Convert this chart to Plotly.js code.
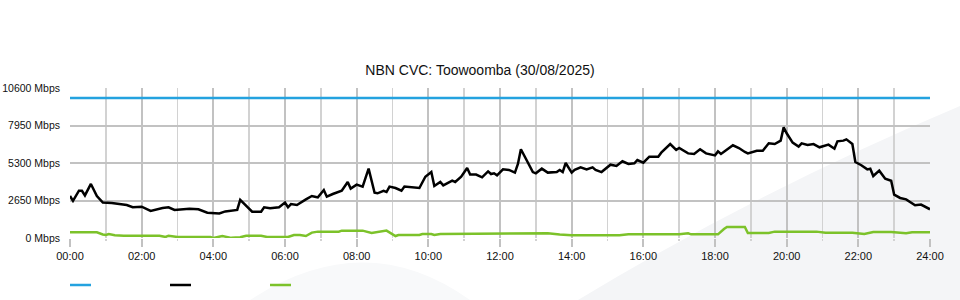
<!DOCTYPE html>
<html>
<head>
<meta charset="utf-8">
<script src="https://cdn.plot.ly/plotly-3.0.1.min.js"></script>
<style>html,body{margin:0;padding:0;background:#fff;}#chart{width:960px;height:300px;}</style>
</head>
<body>
<div id="chart"></div>
<script>
// ---- data ----
const chartTitle = "NBN CVC: Toowoomba (30/08/2025)";
const yTickVals = [0, 2650, 5300, 7950, 10600];
const yTickText = ["0 Mbps", "2650 Mbps", "5300 Mbps", "7950 Mbps", "10600 Mbps"];
const xTickVals = [0, 2, 4, 6, 8, 10, 12, 14, 16, 18, 20, 22, 24];
const xTickText = ["00:00","02:00","04:00","06:00","08:00","10:00","12:00","14:00","16:00","18:00","20:00","22:00","24:00"];

const capacityTimes = ["00:00", "24:00"];
const capacityValues = [9900, 9900];

const downTimes = ["00:00","00:05","00:15","00:20","00:25","00:35","00:45","00:55","01:10","01:20","01:35","01:45","02:00","02:15","02:35","02:45","02:55","03:20","03:35","03:50","04:10","04:20","04:40","04:45","05:00","05:05","05:20","05:25","05:35","05:50","06:00","06:05","06:10","06:20","06:35","06:45","06:50","06:55","07:05","07:10","07:20","07:35","07:45","07:50","08:00","08:10","08:20","08:30","08:35","08:45","08:50","08:55","09:05","09:15","09:20","09:35","09:45","09:55","10:05","10:10","10:20","10:25","10:40","10:45","10:55","11:05","11:10","11:20","11:30","11:40","11:45","11:50","11:55","12:05","12:15","12:25","12:30","12:35","12:45","12:55","13:00","13:10","13:20","13:35","13:40","13:45","13:50","14:00","14:05","14:15","14:25","14:35","14:40","14:50","15:05","15:15","15:25","15:35","15:45","15:50","16:00","16:10","16:25","16:30","16:45","16:55","17:00","17:15","17:25","17:35","17:45","18:00","18:05","18:10","18:30","18:40","18:50","18:55","19:10","19:20","19:30","19:40","19:50","19:55","20:00","20:10","20:20","20:25","20:35","20:45","20:55","21:10","21:20","21:25","21:35","21:40","21:50","21:55","22:05","22:15","22:20","22:25","22:35","22:45","22:55","23:00","23:10","23:20","23:35","23:45","24:00"];
const downValues = [2970,2620,3340,3340,3010,3820,2970,2500,2480,2400,2330,2170,2210,1910,2120,2170,1980,2070,2030,1790,1740,1880,1980,2690,2030,1860,1860,2170,2100,2170,2500,2170,2400,2330,2730,2970,2920,2870,3390,2920,3110,3340,3960,3490,3770,3630,4900,3200,3160,3340,3250,3630,3530,3340,3630,3580,3530,4330,4660,3680,3960,3720,4050,3960,4330,4950,4480,4480,4290,4710,4520,4570,4430,4850,4810,4620,5230,6270,5510,4660,4570,4900,4620,4660,4810,4660,5300,4620,4810,4990,4850,4990,4810,4660,5180,5090,5420,5230,5280,5510,5320,5750,5750,6030,6640,6220,6360,5980,5940,6270,5980,5840,6120,5940,6550,6360,6080,5980,6170,6170,6690,6640,6880,7820,7400,6740,6460,6690,6570,6640,6410,6600,6310,6830,6880,6970,6640,5370,5140,4850,4900,4380,4760,4190,4050,3060,2830,2730,2310,2360,2030];

const upTimes = ["00:00","00:45","00:55","01:00","01:05","01:15","01:30","02:30","02:40","02:45","03:00","03:55","04:00","04:15","04:30","04:45","04:55","05:20","05:30","06:05","06:15","06:25","06:35","06:45","06:55","07:30","07:35","08:10","08:25","08:40","08:50","09:05","09:10","09:45","09:50","10:05","10:10","10:20","11:05","11:15","11:25","12:10","12:20","12:35","13:20","13:40","14:00","15:20","15:35","17:00","17:10","17:15","17:20","18:05","18:15","18:20","18:50","18:55","19:30","19:40","20:50","21:05","21:50","22:10","22:25","22:55","23:20","23:30","24:00"];
const upValues = [400,400,250,210,280,200,165,165,70,165,70,70,0,140,10,50,165,165,70,70,212,212,140,380,450,450,520,520,350,424,520,140,212,212,280,280,212,280,280,330,280,330,280,330,330,240,190,190,260,260,330,330,260,260,636,777,777,353,353,450,450,377,377,280,424,424,330,400,400];

const colors = { capacity: "#24a2df", down: "#000000", up: "#7cc22a" };

// ---- helpers ----
function toHours(t) { const p = t.split(":"); return Number(p[0]) + Number(p[1]) / 60; }

const traces = [
  { x: capacityTimes.map(toHours), y: capacityValues, type: "scatter", mode: "lines",
    line: { color: colors.capacity, width: 2.5 }, hoverinfo: "skip" },
  { x: upTimes.map(toHours), y: upValues, type: "scatter", mode: "lines",
    line: { color: colors.up, width: 2.5 }, hoverinfo: "skip" },
  { x: downTimes.map(toHours), y: downValues, type: "scatter", mode: "lines",
    line: { color: colors.down, width: 2.5 }, hoverinfo: "skip" }
];

// pixel -> paper helpers for decorations (plot area: x 70..930, y 88..238)
const L = 70, R = 930, T = 88, B = 238;
const px = v => (v - L) / (R - L);
const py = v => (B - v) / (B - T);

function legendLine(x0, color) {
  return { type: "line", xref: "paper", yref: "paper", x0: px(x0), x1: px(x0 + 21),
           y0: py(285), y1: py(285), line: { color: color, width: 2.5 }, layer: "above" };
}

const shapes = [
  // watermark bands
  { type: "path", xref: "paper", yref: "paper", layer: "below", fillcolor: "#f4f5f7", line: { width: 0 },
    path: `M ${px(578)} ${py(300)} Q ${px(760)} ${py(190)} ${px(960)} ${py(106)} L ${px(960)} ${py(300)} Z` },
  { type: "path", xref: "paper", yref: "paper", layer: "below", fillcolor: "#f8f9fa", line: { width: 0 },
    path: `M ${px(250)} ${py(300)} Q ${px(365)} ${py(225)} ${px(470)} ${py(300)} Z` },
  legendLine(70, colors.capacity),
  legendLine(170, colors.down),
  legendLine(270, colors.up)
];

const layout = {
  width: 960, height: 300,
  margin: { l: 70, r: 30, t: 88, b: 62, pad: 0 },
  paper_bgcolor: "rgba(0,0,0,0)", plot_bgcolor: "rgba(0,0,0,0)",
  showlegend: false,
  font: { family: "Liberation Sans, Arial, sans-serif", size: 11, color: "#111" },
  title: { text: chartTitle, x: 0.5, xref: "container", xanchor: "center",
           y: 1 - 70 / 300, yref: "container", yanchor: "middle",
           font: { family: "Liberation Sans, Arial, sans-serif", size: 14, color: "#111" } },
  xaxis: {
    range: [0, 24], tickvals: xTickVals, ticktext: xTickText,
    showgrid: true, gridcolor: "#c2c2c2", gridwidth: 2,
    ticks: "outside", ticklen: 8, tickwidth: 2, tickcolor: "#c2c2c2",
    minor: { dtick: 1, tick0: 0, showgrid: true, gridcolor: "#d2d2d2", gridwidth: 1.5,
             ticks: "outside", ticklen: 2, tickcolor: "#d2d2d2", tickwidth: 1.5 },
    zeroline: false, showline: false, fixedrange: true,
    tickfont: { size: 11, color: "#111" }
  },
  yaxis: {
    range: [0, 10600], tickvals: yTickVals, ticktext: yTickText,
    showgrid: true, gridcolor: "#c2c2c2", gridwidth: 2,
    zeroline: false, showline: false, ticks: "", ticklabelstandoff: 9, fixedrange: true,
    tickfont: { size: 10.5, color: "#111" }
  },
  shapes: shapes
};

Plotly.newPlot("chart", traces, layout, { displayModeBar: false, staticPlot: true });
</script>
</body>
</html>
